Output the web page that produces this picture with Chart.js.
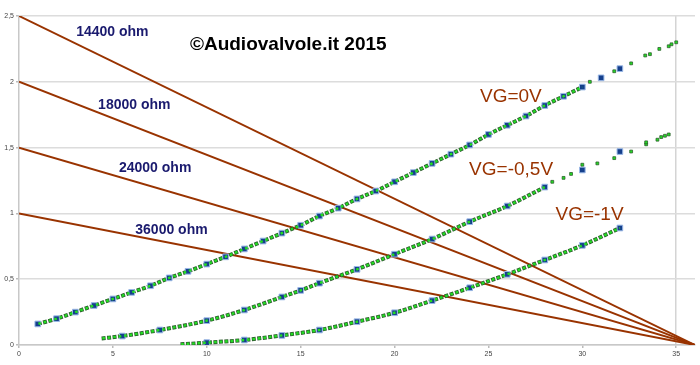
<!DOCTYPE html>
<html>
<head>
<meta charset="utf-8">
<script src="https://cdn.jsdelivr.net/npm/chart.js@4.4.1/dist/chart.umd.min.js"></script>
<style>
  html, body { margin: 0; padding: 0; background: #fff; }
  #wrap { width: 700px; height: 365px; }
</style>
</head>
<body>
<div id="wrap"><canvas id="chart" width="700" height="365"></canvas></div>
<script>
// load lines: Ia at Va=0 for each load, all end at 36 V
const loadNames = ['14400 ohm', '18000 ohm', '24000 ohm', '36000 ohm'];
const loadStartI = [2.5, 2.0, 1.5, 1.0];
const supplyV = 36;

// VG = 0 V measured points
const vg0X = [1, 2, 3, 4, 5, 6, 7, 8, 9, 10, 11, 12, 13, 14, 15, 16, 17, 18, 19, 20, 21, 22, 23, 24, 25, 26, 27, 28, 29, 30, 31, 32];
const vg0Y = [0.16, 0.20, 0.25, 0.30, 0.35, 0.40, 0.45, 0.51, 0.56, 0.615, 0.67, 0.73, 0.79, 0.85, 0.91, 0.98, 1.04, 1.11, 1.17, 1.24, 1.31, 1.38, 1.45, 1.52, 1.60, 1.67, 1.74, 1.82, 1.89, 1.96, 2.03, 2.10];
const vg0LineEnd = 30;
const vg0ExtraX = [30.4, 31.7, 32.6, 33.35, 33.6, 34.1, 34.6, 34.75, 35.0];
const vg0ExtraY = [2.00, 2.08, 2.14, 2.20, 2.21, 2.25, 2.27, 2.285, 2.30];

// VG = -0,5 V
const vg05X = [5.5, 7.5, 10, 12, 14, 15, 16, 18, 20, 22, 24, 26, 28, 30, 32];
const vg05Y = [0.068, 0.114, 0.185, 0.266, 0.365, 0.415, 0.47, 0.575, 0.69, 0.805, 0.937, 1.056, 1.20, 1.33, 1.47];
const vg05Start = [4.4, 0.05];
const vg05LineEnd = 28;
const vg05ExtraX = [28.4, 29.0, 29.4, 30.0, 30.8, 31.7, 32.6, 33.4, 33.4, 34.0, 34.2, 34.4, 34.6];
const vg05ExtraY = [1.24, 1.27, 1.30, 1.37, 1.38, 1.42, 1.47, 1.525, 1.54, 1.56, 1.58, 1.59, 1.60];

// VG = -1 V
const vg1X = [10, 12, 14, 16, 18, 20, 22, 24, 26, 28, 30, 32];
const vg1Y = [0.018, 0.038, 0.073, 0.114, 0.177, 0.245, 0.337, 0.435, 0.537, 0.646, 0.757, 0.889];
const vg1Start = [8.6, 0.005];
const vg1LineEnd = 32;

const curveLabels = ['VG=0V', 'VG=-0,5V', 'VG=-1V'];
const titleText = '\u00A9Audiovalvole.it 2015';

const brown = '#993300';
const navy = '#1a1a6e';

function pts(xs, ys) {
    return xs.map((x, i) => ({ x: x, y: ys[i] }));
}

function linePts(xs, ys, end, start) {
    const p = pts(xs, ys).filter(d => d.x <= end);
    if (start) p.unshift({ x: start[0], y: start[1] });
    return p;
}

const datasets = [];

// green interpolation lines: dark outline dashes (under the squares) and bright green dashes on top
[[vg0X, vg0Y, vg0LineEnd, null], [vg05X, vg05Y, vg05LineEnd, vg05Start], [vg1X, vg1Y, vg1LineEnd, vg1Start]].forEach(c => {
    const d = linePts(c[0], c[1], c[2], c[3]);
    datasets.push({
        type: 'line',
        data: d,
        borderColor: '#2e5e2e',
        borderWidth: 4,
        borderDash: [4, 1.5],
        pointRadius: 0,
        cubicInterpolationMode: 'monotone',
        order: 4,
    });
    datasets.push({
        type: 'line',
        data: d,
        borderColor: '#22dd22',
        borderWidth: 2.4,
        borderDash: [2.6, 2.9],
        borderDashOffset: -0.7,
        pointRadius: 0,
        cubicInterpolationMode: 'monotone',
        order: 1,
    });
});

// sparse green dots
[[vg0ExtraX, vg0ExtraY], [vg05ExtraX, vg05ExtraY]].forEach(c => {
    datasets.push({
        type: 'scatter',
        data: pts(c[0], c[1]),
        pointStyle: 'rect',
        pointRadius: 2,
        backgroundColor: '#22dd22',
        borderColor: '#2e5e2e',
        borderWidth: 0.8,
        order: 2,
    });
});

// measured points (blue squares)
[[vg0X, vg0Y], [vg05X, vg05Y], [vg1X, vg1Y]].forEach(c => {
    datasets.push({
        type: 'scatter',
        data: pts(c[0], c[1]),
        pointStyle: 'rect',
        pointRadius: 4,
        backgroundColor: '#153f8c',
        borderColor: '#9ab8e6',
        borderWidth: 1,
        order: 3,
    });
});

// load lines
loadStartI.forEach(i0 => {
    datasets.push({
        type: 'line',
        data: [{ x: 0, y: i0 }, { x: supplyV, y: 0 }],
        borderColor: brown,
        borderWidth: 2,
        pointRadius: 0,
        order: 5,
    });
});

// text labels, placed in data coordinates
const textLabels = [
    { text: loadNames[0], x: 4.97, y: 2.38, font: 'bold 14px "Liberation Sans", Arial', color: navy, align: 'center' },
    { text: loadNames[1], x: 6.14, y: 1.82, font: 'bold 14px "Liberation Sans", Arial', color: navy, align: 'center' },
    { text: loadNames[2], x: 7.25, y: 1.345, font: 'bold 14px "Liberation Sans", Arial', color: navy, align: 'center' },
    { text: loadNames[3], x: 8.12, y: 0.874, font: 'bold 14px "Liberation Sans", Arial', color: navy, align: 'center' },
    { text: titleText, x: 14.34, y: 2.28, font: 'bold 19px "Liberation Sans", Arial', color: '#000', align: 'center' },
    { text: curveLabels[0], x: 24.55, y: 1.885, font: '19px "Liberation Sans", Arial', color: brown, align: 'left' },
    { text: curveLabels[1], x: 23.97, y: 1.33, font: '19px "Liberation Sans", Arial', color: brown, align: 'left' },
    { text: curveLabels[2], x: 28.57, y: 0.99, font: '19px "Liberation Sans", Arial', color: brown, align: 'left' },
];

const labelPlugin = {
    id: 'labels',
    afterDatasetsDraw(chart) {
        const ctx = chart.ctx;
        const xs = chart.scales.x, ys = chart.scales.y;
        ctx.save();
        ctx.textBaseline = 'middle';
        textLabels.forEach(l => {
            ctx.font = l.font;
            ctx.fillStyle = l.color;
            ctx.textAlign = l.align;
            ctx.fillText(l.text, xs.getPixelForValue(l.x), ys.getPixelForValue(l.y));
        });
        ctx.restore();
    }
};

new Chart(document.getElementById('chart').getContext('2d'), {
    data: { datasets: datasets },
    options: {
        responsive: false,
        animation: false,
        layout: { padding: { top: 16, right: 0, left: 0, bottom: 0 } },
        plugins: {
            legend: { display: false },
            tooltip: { enabled: false },
        },
        scales: {
            x: {
                type: 'linear',
                min: 0,
                max: supplyV,
                afterBuildTicks: s => { s.ticks = s.ticks.filter(t => t.value % 5 === 0); },
                afterFit: s => { s.height = 20; },
                ticks: { stepSize: 5, font: { size: 7, family: 'Arial' }, color: '#444', padding: 2, maxRotation: 0 },
                grid: {
                    color: c => (c.tick && c.tick.value === 35) ? '#d4d4d4' : 'rgba(0,0,0,0)',
                    tickColor: '#bbb',
                    tickLength: 3,
                    lineWidth: 1.5,
                },
                border: { display: true, color: '#c8c8c8', width: 1.5 },
            },
            y: {
                type: 'linear',
                min: 0,
                max: 2.5,
                afterFit: s => { s.width = 19; },
                ticks: {
                    stepSize: 0.5,
                    font: { size: 7, family: 'Arial' },
                    color: '#444',
                    padding: 2,
                    callback: v => String(v).replace('.', ','),
                },
                grid: { color: '#dcdcdc', lineWidth: 1.5, tickColor: '#bbb', tickLength: 3 },
                border: { display: true, color: '#c8c8c8', width: 1.5 },
            },
        },
    },
    plugins: [labelPlugin],
});
</script>
</body>
</html>
